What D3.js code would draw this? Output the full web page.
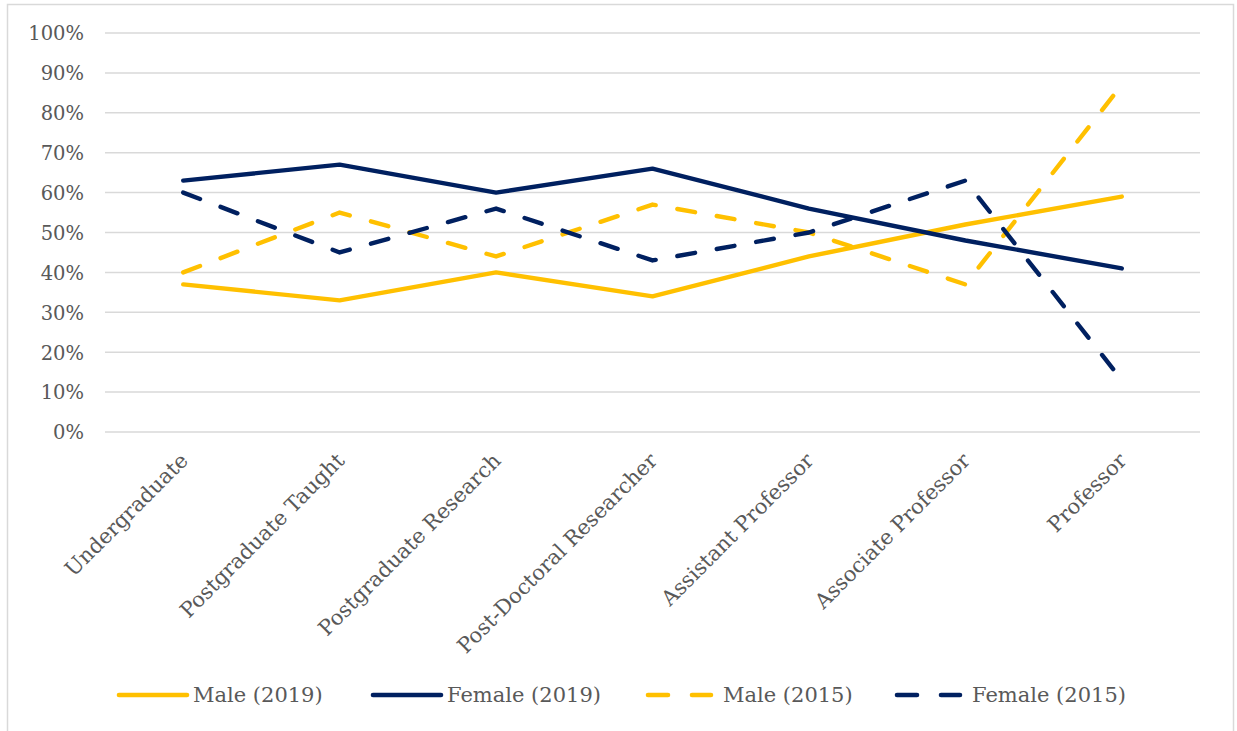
<!DOCTYPE html>
<html><head><meta charset="utf-8">
<script src="https://cdn.jsdelivr.net/npm/d3@7"></script>
<style>body{margin:0;background:#fff;}svg{display:block;}</style>
</head><body>
<svg id="c" width="1237" height="731"></svg>
<script>
const categories = ["Undergraduate","Postgraduate Taught","Postgraduate Research","Post-Doctoral Researcher","Assistant Professor","Associate Professor","Professor"];
const male2019   = [37,33,40,34,44,52,59];
const female2019 = [63,67,60,66,56,48,41];
const male2015   = [40,55,44,57,50,37,87];
const female2015 = [60,45,56,43,50,63,13];
const yTicks = [0,10,20,30,40,50,60,70,80,90,100];
const seriesNames = ["Male (2019)","Female (2019)","Male (2015)","Female (2015)"];

const gold = "#FFC000", navy = "#002060";
const series = [
  {name:seriesNames[0], values:male2019, color:gold, dash:null},
  {name:seriesNames[1], values:female2019, color:navy, dash:null},
  {name:seriesNames[2], values:male2015, color:gold, dash:"18,22"},
  {name:seriesNames[3], values:female2015, color:navy, dash:"18,22"}
];

const svg = d3.select("#c");
const font = "'DejaVu Serif', 'Liberation Serif', serif";
// frame
svg.append("rect").attr("x",7.5).attr("y",4.5).attr("width",1226).attr("height",740)
  .attr("fill","#fff").attr("stroke","#d9d9d9").attr("stroke-width",1.5);

const x = d3.scaleBand().domain(categories).range([105,1200]);
const y = d3.scaleLinear().domain([0,100]).range([432,33]);

// gridlines
svg.append("g").selectAll("line").data(yTicks).join("line")
  .attr("x1",105).attr("x2",1200).attr("y1",d=>y(d)).attr("y2",d=>y(d))
  .attr("stroke","#d9d9d9").attr("stroke-width",1.5);

// y axis labels
const yAxis = d3.axisLeft(y).tickValues(yTicks).tickFormat(d=>d+"%").tickSize(0).tickPadding(0);
const ya = svg.append("g").attr("transform","translate(84,0)").call(yAxis);
ya.select(".domain").remove();
ya.selectAll("text").attr("font-family",font).attr("font-size",19.5).attr("fill","#595959")
  .attr("dy","0.35em");

// x axis labels
const xAxis = d3.axisBottom(x).tickSize(0).tickPadding(0);
const xa = svg.append("g").attr("transform","translate(0,432)").call(xAxis);
xa.select(".domain").remove();
xa.selectAll("text").attr("font-family",font).attr("font-size",21).attr("fill","#595959")
  .attr("text-anchor","end").attr("dy",0).attr("y",0)
  .attr("transform","translate(6,30) rotate(-45)");

// lines
const line = d3.line().x((d,i)=>x(categories[i])+x.bandwidth()/2).y(d=>y(d));
svg.append("g").selectAll("path").data(series).join("path")
  .attr("d",d=>line(d.values)).attr("fill","none")
  .attr("stroke",d=>d.color).attr("stroke-width",4.4)
  .attr("stroke-dasharray",d=>d.dash).attr("stroke-linecap","round").attr("stroke-linejoin","round");

// legend
const legendX = [119,373,648,897];
const lg = svg.append("g").selectAll("g").data(series).join("g")
  .attr("transform",(d,i)=>`translate(${legendX[i]},695)`);
lg.append("line").attr("x1",0).attr("x2",d=>d.dash?63:68).attr("y1",0).attr("y2",0)
  .attr("stroke",d=>d.color).attr("stroke-width",4.6).attr("stroke-linecap","round")
  .attr("stroke-dasharray",d=>d.dash?"20,24":null);
lg.append("text").attr("x",d=>d.dash?75:74).attr("y",0).attr("dy","0.35em")
  .attr("font-family",font).attr("font-size",21).attr("fill","#595959").text(d=>d.name);
</script>
</body></html>
